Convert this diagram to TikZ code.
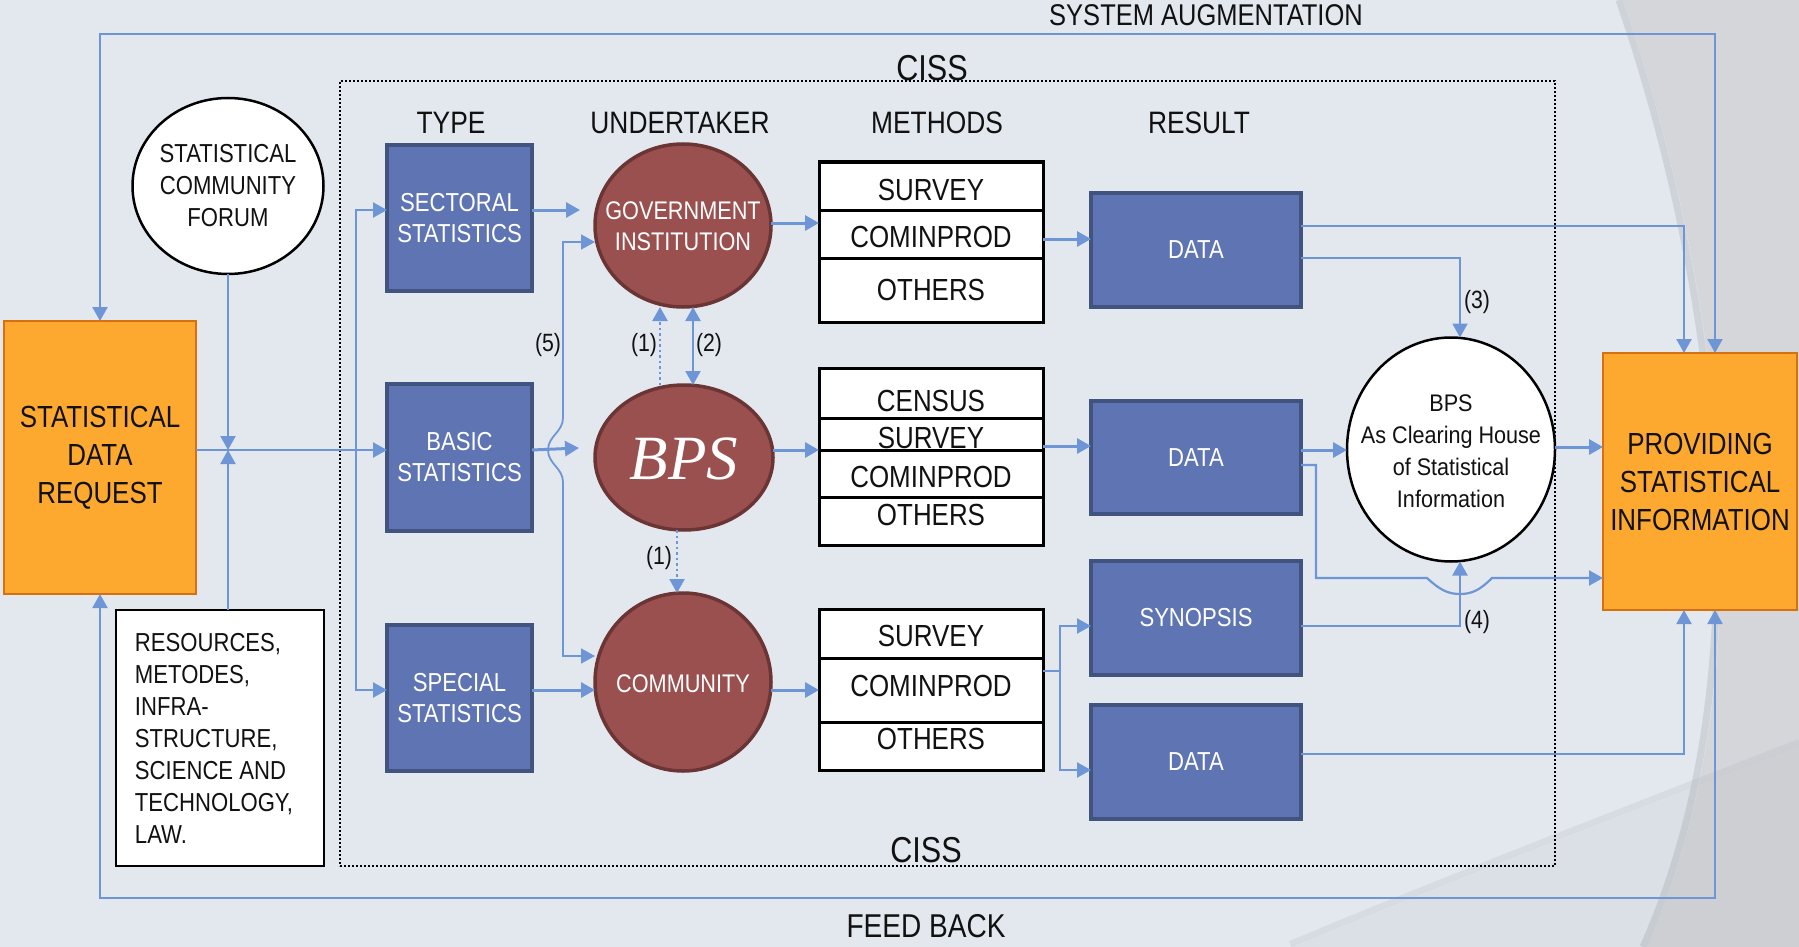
\documentclass[tikz,border=0pt]{standalone}
\usepackage{fontspec}
\setmainfont{Liberation Sans}[FakeStretch=0.85]
\newfontfamily\chfont{Liberation Sans}[FakeStretch=0.9]
\newfontfamily\bpsfont{Liberation Serif}
\usetikzlibrary{shapes.geometric,arrows.meta}
\definecolor{bg}{HTML}{E3E8EF}
\definecolor{grayA}{HTML}{D5D6DA}
\definecolor{shad}{HTML}{B5B9BF}
\definecolor{lb}{HTML}{6E96D6}
\definecolor{orf}{HTML}{FDA930}
\definecolor{ord}{HTML}{D9700F}
\definecolor{bbf}{HTML}{5F75B3}
\definecolor{bbd}{HTML}{41537F}
\definecolor{mrf}{HTML}{9B5050}
\definecolor{mrd}{HTML}{6C3535}
\definecolor{ink}{HTML}{111111}
\begin{document}
\begin{tikzpicture}[x=1pt,y=-1pt,
  every node/.style={inner sep=0pt,outer sep=0pt,text=ink},
  ln/.style={draw=lb,line width=2.2pt},
  lnt/.style={draw=lb,line width=3pt},
  lnf/.style={draw=lb,line width=1.8pt},
  ar/.style={-{Triangle[length=14pt,width=15pt]}},
  bar/.style={{Triangle[length=14pt,width=15pt]}-{Triangle[length=14pt,width=15pt]}},
  dotl/.style={draw=lb,line width=2.5pt,dash pattern=on 2.5pt off 3pt},
  orbox/.style={rectangle,fill=orf,draw=ord,line width=2.5pt,align=center,font=\fontsize{30.5}{38}\selectfont},
  bluebox/.style={rectangle,fill=bbf,draw=bbd,line width=3.5pt,text=white,align=center,font=\fontsize{26}{31}\selectfont},
  mell/.style={ellipse,fill=mrf,draw=mrd,line width=3.5pt},
  well/.style={ellipse,fill=white,draw=black,line width=2.5pt},
  tbl/.style={rectangle,fill=white,draw=black,line width=3pt,minimum width=224pt},
  tline/.style={draw=black,line width=3pt},
  mt/.style={font=\fontsize{30.5}{34}\selectfont},
  hd/.style={font=\fontsize{31}{36}\selectfont},
  lab/.style={font=\fontsize{25}{28}\selectfont},
  wtxt/.style={text=white,align=center,font=\fontsize{25.5}{31}\selectfont}
]
\useasboundingbox (0,0) rectangle (1799,947);
% background
\fill[bg] (0,0) rectangle (1799,947);
\fill[grayA] (1623,0) .. controls (1710,250) and (1780,650) .. (1647,947) -- (1799,947) -- (1799,0) -- cycle;
\draw[shad,line width=7pt,opacity=.45] (1619,0) .. controls (1706,250) and (1776,650) .. (1643,947);
\fill[black,opacity=.03] (1290,947) .. controls (1450,880) and (1620,815) .. (1799,745) -- (1799,947) -- cycle;
\draw[shad,line width=6pt,opacity=.25] (1290,944) .. controls (1450,877) and (1620,812) .. (1799,742);

% CISS dotted frame
\node[draw=black,line width=1.6pt,dash pattern=on 1.8pt off 2.2pt,minimum width=1215pt,minimum height=785pt] (ciss) at (947.5,473.5) {};

% titles
\node[font=\fontsize{30}{34}\selectfont] (tsa) at (1206,15) {SYSTEM AUGMENTATION};
\node[font=\fontsize{36}{40}\selectfont] (tc1) at (932,68) {CISS};
\node[font=\fontsize{36}{40}\selectfont] (tc2) at (926,850) {CISS};
\node[font=\fontsize{33}{36}\selectfont] (tfb) at (926,926) {FEED BACK};
\node[hd] (htype) at (451,123) {TYPE};
\node[hd] (hund) at (680,123) {UNDERTAKER};
\node[hd] (hmet) at (937,123) {METHODS};
\node[hd] (hres) at (1199,123) {RESULT};

% left side
\node[orbox,minimum width=192pt,minimum height=273pt] (req) at (100,457.5) {STATISTICAL\\DATA\\REQUEST};
\node[orbox,minimum width=194pt,minimum height=257pt] (prov) at (1700,481.5) {PROVIDING\\STATISTICAL\\INFORMATION};
\node[well,minimum width=191pt,minimum height=176pt] (forum) at (228,186) {};
\node[align=center,font=\fontsize{26}{32}\selectfont] (forumt) at (228,186) {STATISTICAL\\COMMUNITY\\FORUM};
\node[rectangle,fill=white,draw=black,line width=2.5pt,minimum width=208pt,minimum height=256pt] (res) at (220,738) {};
\node[align=left,font=\fontsize{26}{32}\selectfont] (rest) at (214,738) {RESOURCES,\\METODES,\\INFRA-\\STRUCTURE,\\SCIENCE AND\\TECHNOLOGY,\\LAW.};

% type boxes
\node[bluebox,minimum width=145pt,minimum height=146pt] (sect) at (459.5,218) {SECTORAL\\STATISTICS};
\node[bluebox,minimum width=145pt,minimum height=147pt] (basic) at (459.5,457.5) {BASIC\\STATISTICS};
\node[bluebox,minimum width=145pt,minimum height=146pt] (spec) at (459.5,698) {SPECIAL\\STATISTICS};

% undertakers
\node[mell,minimum width=176pt,minimum height=163pt] (gov) at (683,225.5) {};
\node[wtxt] (govt) at (683,226) {GOVERNMENT\\INSTITUTION};
\node[mell,minimum width=178pt,minimum height=145pt] (bps) at (684,457.5) {};
\node[text=white,font=\bpsfont\itshape\fontsize{63}{70}\selectfont] (bpst) at (684,459) {BPS};
\node[mell,minimum width=176pt,minimum height=178pt] (comm) at (683,682) {};
\node[wtxt] (commt) at (683,684) {COMMUNITY};

% methods tables
\node[tbl,minimum height=160pt] (m1) at (931,242) {};
\draw[tline] (m1.west |- 0,210) -- (m1.east |- 0,210);
\draw[tline] (m1.west |- 0,258) -- (m1.east |- 0,258);
\node[mt] (m1a) at (931,189.5) {SURVEY};
\node[mt] (m1b) at (931,236.5) {COMINPROD};
\node[mt] (m1c) at (931,290) {OTHERS};

\node[tbl,minimum height=177pt] (m2) at (931,456.5) {};
\node[mt] (m2a) at (931,401) {CENSUS};
\node[mt] (m2b) at (931,438) {SURVEY};
\node[mt] (m2c) at (931,477) {COMINPROD};
\node[mt] (m2d) at (931,515) {OTHERS};
\draw[tline] (m2.west |- 0,418) -- (m2.east |- 0,418);
\draw[tline] (m2.west |- 0,450) -- (m2.east |- 0,450);
\draw[tline] (m2.west |- 0,497) -- (m2.east |- 0,497);

\node[tbl,minimum height=161pt] (m3) at (931,689.5) {};
\draw[tline] (m3.west |- 0,658) -- (m3.east |- 0,658);
\draw[tline] (m3.west |- 0,722) -- (m3.east |- 0,722);
\node[mt] (m3a) at (931,635.5) {SURVEY};
\node[mt] (m3b) at (931,685.5) {COMINPROD};
\node[mt] (m3c) at (931,739) {OTHERS};

% results
\node[bluebox,minimum width=210pt,minimum height=114pt] (d1) at (1196,250) {DATA};
\node[bluebox,minimum width=210pt,minimum height=113pt] (d2) at (1196,457.5) {DATA};
\node[bluebox,minimum width=210pt,minimum height=114pt] (syn) at (1196,618) {SYNOPSIS};
\node[bluebox,minimum width=210pt,minimum height=114pt] (d3) at (1196,762) {DATA};

% clearing house
\node[well,minimum width=208pt,minimum height=224pt] (ch) at (1451,449.5) {};
\node[align=center,font=\chfont\fontsize{24}{32}\selectfont] (cht) at (1451,451) {BPS\\As Clearing House\\of Statistical\\Information};

% ---- connectors ----
\coordinate (tl) at (100,34);
\coordinate (tr) at (1715,34);
\coordinate (bl) at (100,898);
\coordinate (br) at (1715,898);
\draw[ln,bar] (req.north -| tl) -- (tl) -- (tr) -- (prov.north -| tr);
\draw[ln,bar] (req.south -| bl) -- (bl) -- (br) -- (prov.south -| br);

\coordinate (mainy) at (0,450);
\coordinate (j1) at (228,450);
\draw[ln,ar] (req.east |- mainy) -- (basic.west |- mainy);
\draw[ln,ar] (forum.south) -- (j1);
\draw[ln,ar] (res.north -| j1) -- (j1);

\coordinate (v1) at (356,210);
\coordinate (v2) at (356,690);
\draw[ln,bar] (sect.west |- v1) -- (v1) -- (v2) -- (spec.west |- v2);

\draw[lnt,ar] (sect.east |- v1) -- (580,210);
\draw[lnt,ar] (basic.east |- mainy) -- (579,448);
\draw[lnt,ar] (spec.east |- v2) -- (gov.west |- v2);

\coordinate (c5a) at (563,242);
\coordinate (c5b) at (563,656);
\draw[lnf,bar] (gov.west |- c5a) -- (c5a) -- (563,418) .. controls (563,432) and (548,436) .. (548,450) .. controls (548,464) and (563,468) .. (563,482) -- (c5b) -- (comm.west |- c5b);
\node[lab] (l5) at (548,345) {(5)};

\coordinate (x1) at (660,0);
\coordinate (x2) at (693,0);
\coordinate (x3) at (677,0);
\draw[dotl,ar] (bps.north -| x1) -- (gov.south -| x1);
\draw[ln,bar] (gov.south -| x2) -- (bps.north -| x2);
\draw[dotl,ar] (bps.south -| x3) -- (comm.north -| x3);
\node[lab] (l1a) at (644,345) {(1)};
\node[lab] (l2) at (709,345) {(2)};
\node[lab] (l1b) at (659,558) {(1)};

\draw[lnt,ar] (gov.east |- 0,223) -- (m1.west |- 0,223);
\draw[lnt,ar] (bps.east |- mainy) -- (m2.west |- mainy);
\draw[lnt,ar] (comm.east |- 0,690) -- (m3.west |- 0,690);

\draw[lnt,ar] (m1.east |- 0,239) -- (d1.west |- 0,239);
\draw[lnt,ar] (m2.east |- 0,446) -- (d2.west |- 0,446);
\coordinate (s1) at (1060,671);
\draw[ln,ar] (m3.east |- s1) -- (s1) |- (syn.west |- 0,626);
\draw[ln,ar] (s1) |- (d3.west |- 0,770);

\coordinate (k1) at (1684,226);
\draw[ln,ar] (d1.east |- k1) -- (k1) -- (prov.north -| k1);
\coordinate (k3) at (1460,258);
\draw[ln,ar] (d1.east |- k3) -- (k3) -- (ch.north -| k3);
\node[lab] (l3) at (1477,302) {(3)};
\draw[lnt,ar] (d2.east |- mainy) -- (ch.west |- mainy);
\draw[lnt,ar] (ch.east |- 0,447) -- (prov.west |- 0,447);
\coordinate (k4) at (1460,626);
\draw[ln,ar] (syn.east |- k4) -- (k4) -- (ch.south -| k4);
\node[lab] (l4) at (1477,622) {(4)};
\draw[ln,ar] (d2.east |- 0,465) -- (1316,465) -- (1316,578) -- (1427,578) .. controls (1440,590) and (1448,594) .. (1460,594) .. controls (1472,594) and (1480,590) .. (1492,578) -- (prov.west |- 0,578);
\coordinate (k5) at (1684,754);
\draw[ln,ar] (d3.east |- k5) -- (k5) -- (prov.south -| k5);
\end{tikzpicture}
\end{document}
